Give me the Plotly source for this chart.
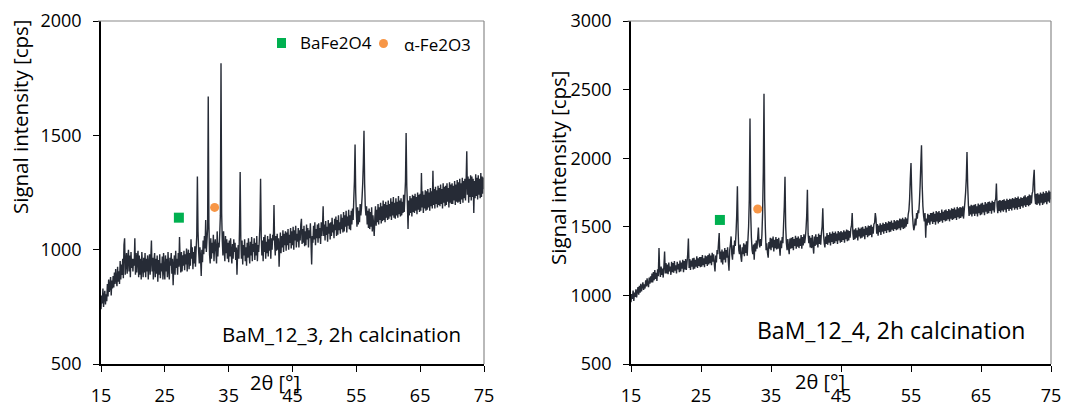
import plotly.graph_objects as go

# 2θ sampling grid (degrees)
TWO_THETA_START = 15.0
TWO_THETA_STEP = 0.1

# BaM_12_3 intensity [cps], one row per degree (x.0 ... x.9), last value at 75
bam_12_3 = [
    740, 800, 765, 830, 750, 795, 820, 760, 805, 775,
    850, 795, 870, 815, 840, 880, 800, 865, 830, 885,
    835, 900, 850, 915, 870, 840, 925, 860, 905, 850,
    950, 870, 935, 890, 960, 875, 1020, 1050, 890, 945,
    985, 895, 960, 1000, 905, 975, 880, 990, 920, 960,
    905, 960, 930, 1050, 890, 985, 900, 965, 995, 880,
    975, 890, 960, 870, 990, 925, 880, 965, 900, 985,
    880, 960, 905, 975, 870, 940, 980, 890, 960, 1040,
    905, 965, 870, 950, 985, 880, 960, 895, 975, 860,
    955, 890, 980, 875, 940, 905, 970, 870, 985, 910,
    870, 975, 905, 960, 880, 990, 915, 870, 965, 930,
    985, 895, 960, 845, 930, 975, 890, 995, 920, 960,
    890, 985, 925, 1055, 950, 900, 990, 905, 975, 930,
    995, 910, 980, 935, 1005, 905, 970, 1000, 915, 985,
    930, 1045, 960, 1010, 915, 990, 940, 1015, 925, 1000,
    1060, 1320, 1080, 990, 940, 1010, 960, 885, 1000, 945,
    1040, 980, 1060, 1005, 1130, 990, 1040, 1090, 1670, 1120,
    980, 940, 1050, 960, 1030, 985, 1065, 950, 1020, 1045,
    990, 940, 1080, 970, 1030, 1010, 1070, 1150, 1815, 1160,
    1040, 975, 1080, 1000, 950, 1060, 985, 1045, 960, 1030,
    945, 1040, 970, 1050, 985, 940, 1025, 960, 1045, 990,
    1030, 955, 1010, 890, 985, 1020, 960, 1090, 1340, 1050,
    960, 1040, 935, 1020, 975, 1045, 950, 1010, 930, 1030,
    965, 1050, 985, 940, 1035, 975, 1055, 950, 1025, 990,
    1050, 955, 1030, 975, 1060, 950, 1020, 990, 1040, 1110,
    1310, 1060, 975, 1040, 950, 1055, 990, 1065, 960, 1035,
    985, 1060, 970, 1045, 995, 1070, 960, 1050, 1000, 1065,
    1040, 1195, 1030, 975, 1060, 995, 1070, 1000, 1050, 925,
    1010, 1075, 985, 1060, 1010, 1085, 990, 1070, 1020, 1080,
    995, 1075, 1020, 1090, 1000, 1065, 1030, 1095, 1005, 1080,
    1020, 1100, 1000, 1085, 1040, 1105, 1010, 1070, 1035, 1095,
    1010, 1085, 1040, 1110, 1135, 1025, 1090, 1030, 1105, 1015,
    1080, 1020, 1110, 1045, 1095, 1010, 1085, 1050, 1115, 1030,
    935, 1060, 1030, 1105, 1045, 1120, 1020, 1090, 1050, 1110,
    1030, 1115, 1050, 1095, 1025, 1120, 1060, 1100, 1190, 1060,
    1110, 1040, 1125, 1065, 1100, 1035, 1130, 1070, 1115, 1045,
    1120, 1060, 1140, 1075, 1110, 1050, 1135, 1085, 1145, 1060,
    1130, 1065, 1150, 1085, 1120, 1070, 1155, 1090, 1140, 1075,
    1165, 1080, 1150, 1100, 1170, 1075, 1145, 1105, 1175, 1090,
    1150, 1085, 1170, 1110, 1180, 1130, 1220, 1300, 1460, 1250,
    1160, 1100, 1185, 1110, 1170, 1120, 1200, 1150, 1180, 1230,
    1290, 1380, 1520, 1290, 1190, 1150, 1190, 1110, 1170, 1095,
    1180, 1090, 1165, 1100, 1185, 1080, 1150, 1110, 1060, 1140,
    1190, 1105, 1175, 1120, 1200, 1110, 1185, 1130, 1205, 1115,
    1190, 1125, 1215, 1130, 1200, 1120, 1210, 1140, 1195, 1130,
    1215, 1135, 1200, 1145, 1225, 1130, 1210, 1150, 1230, 1140,
    1205, 1135, 1225, 1150, 1210, 1140, 1235, 1155, 1215, 1145,
    1225, 1150, 1210, 1160, 1240, 1165, 1230, 1300, 1510, 1280,
    1200, 1090, 1215, 1150, 1235, 1160, 1225, 1145, 1240, 1165,
    1235, 1160, 1245, 1170, 1230, 1155, 1250, 1175, 1240, 1165,
    1245, 1170, 1335, 1185, 1255, 1160, 1240, 1180, 1260, 1170,
    1255, 1175, 1265, 1185, 1250, 1170, 1270, 1190, 1255, 1180,
    1345, 1195, 1265, 1180, 1275, 1200, 1260, 1185, 1280, 1195,
    1270, 1190, 1285, 1200, 1265, 1180, 1290, 1205, 1275, 1190,
    1280, 1195, 1290, 1210, 1270, 1185, 1295, 1205, 1285, 1200,
    1290, 1200, 1280, 1215, 1300, 1195, 1285, 1210, 1305, 1205,
    1295, 1210, 1310, 1200, 1290, 1220, 1315, 1205, 1300, 1225,
    1310, 1215, 1300, 1430, 1240, 1320, 1205, 1310, 1230, 1325,
    1215, 1320, 1230, 1310, 1160, 1300, 1225, 1330, 1235, 1315,
    1220, 1325, 1240, 1310, 1225, 1335, 1230, 1320, 1245, 1315,
    1265,
]

# BaM_12_4 intensity [cps]
bam_12_4 = [
    950, 1010, 975, 1035, 960, 1020, 990, 1045, 985, 1030,
    1060, 1005, 1070, 1020, 1085, 1030, 1065, 1095, 1040, 1080,
    1050, 1110, 1065, 1125, 1080, 1060, 1130, 1085, 1140, 1095,
    1160, 1095, 1170, 1110, 1185, 1120, 1165, 1105, 1190, 1140,
    1345, 1180, 1135, 1210, 1150, 1195, 1130, 1215, 1320, 1160,
    1235, 1160, 1225, 1155, 1240, 1175, 1210, 1150, 1245, 1170,
    1235, 1165, 1250, 1180, 1220, 1160, 1245, 1190, 1230, 1170,
    1255, 1175, 1240, 1195, 1260, 1170, 1250, 1190, 1265, 1185,
    1240, 1300, 1415, 1200, 1265, 1185, 1255, 1210, 1270, 1190,
    1275, 1195, 1260, 1210, 1285, 1200, 1270, 1215, 1280, 1205,
    1280, 1210, 1295, 1220, 1270, 1205, 1290, 1230, 1285, 1215,
    1295, 1225, 1305, 1235, 1290, 1220, 1310, 1245, 1300, 1230,
    1175, 1290, 1240, 1330, 1300, 1380, 1455, 1265, 1320, 1240,
    1335, 1225, 1320, 1260, 1345, 1240, 1330, 1275, 1350, 1250,
    1180, 1330, 1375, 1430, 1300, 1260, 1365, 1300, 1400, 1360,
    1450, 1580, 1795, 1480, 1330, 1300, 1370, 1280, 1245, 1350,
    1300, 1380, 1285, 1370, 1310, 1395, 1290, 1400, 1500, 1700,
    2290, 1600, 1420, 1330, 1300, 1370, 1260, 1380, 1320, 1400,
    1340, 1420, 1495, 1380, 1350, 1410, 1360, 1440, 1600, 1900,
    2470, 1700, 1480, 1330, 1380, 1310, 1275, 1390, 1340, 1420,
    1330, 1415, 1350, 1430, 1320, 1405, 1345, 1425, 1335, 1410,
    1340, 1420, 1360, 1290, 1400, 1345, 1425, 1380, 1520, 1650,
    1865, 1500, 1380, 1330, 1410, 1350, 1300, 1415, 1340, 1420,
    1345, 1425, 1330, 1410, 1360, 1435, 1340, 1420, 1355, 1430,
    1345, 1415, 1360, 1440, 1340, 1425, 1365, 1445, 1380, 1420,
    1480, 1580, 1770, 1450, 1380, 1435, 1350, 1420, 1345, 1440,
    1365, 1305, 1430, 1360, 1445, 1370, 1425, 1350, 1450, 1375,
    1440, 1370, 1455, 1500, 1635, 1450, 1380, 1350, 1430, 1375,
    1455, 1370, 1440, 1385, 1460, 1365, 1450, 1390, 1465, 1375,
    1455, 1380, 1465, 1395, 1450, 1375, 1470, 1400, 1460, 1385,
    1470, 1390, 1460, 1405, 1475, 1385, 1465, 1410, 1480, 1395,
    1475, 1400, 1470, 1420, 1485, 1510, 1600, 1450, 1405, 1480,
    1410, 1490, 1420, 1475, 1400, 1495, 1430, 1485, 1415, 1495,
    1420, 1500, 1430, 1485, 1410, 1505, 1440, 1495, 1425, 1510,
    1435, 1505, 1440, 1515, 1425, 1500, 1450, 1520, 1530, 1600,
    1560, 1450, 1520, 1435, 1510, 1460, 1525, 1440, 1515, 1465,
    1530, 1450, 1520, 1470, 1535, 1455, 1525, 1475, 1540, 1460,
    1535, 1465, 1545, 1480, 1530, 1470, 1550, 1485, 1540, 1475,
    1550, 1480, 1545, 1490, 1560, 1475, 1555, 1495, 1565, 1485,
    1555, 1490, 1570, 1500, 1560, 1520, 1590, 1620, 1700, 1850,
    1965, 1750, 1600, 1520, 1475, 1500, 1560, 1510, 1600, 1560,
    1620, 1600, 1680, 1800, 1950, 2095, 1800, 1650, 1580, 1540,
    1600, 1420, 1560, 1510, 1595, 1530, 1585, 1515, 1600, 1540,
    1600, 1520, 1610, 1535, 1595, 1515, 1615, 1540, 1605, 1525,
    1615, 1535, 1600, 1545, 1625, 1530, 1610, 1550, 1620, 1540,
    1625, 1545, 1615, 1555, 1630, 1540, 1620, 1560, 1635, 1550,
    1630, 1555, 1640, 1565, 1625, 1550, 1645, 1570, 1635, 1560,
    1645, 1565, 1640, 1575, 1650, 1560, 1620, 1680, 1750, 1850,
    2045, 1800, 1660, 1580, 1650, 1590, 1660, 1575, 1655, 1595,
    1660, 1580, 1665, 1595, 1650, 1575, 1670, 1600, 1660, 1585,
    1670, 1590, 1675, 1605, 1660, 1585, 1680, 1610, 1670, 1595,
    1680, 1600, 1685, 1615, 1675, 1595, 1690, 1620, 1680, 1605,
    1690, 1700, 1815, 1650, 1600, 1690, 1615, 1695, 1605, 1690,
    1620, 1695, 1610, 1700, 1625, 1690, 1605, 1705, 1630, 1695,
    1615, 1705, 1630, 1700, 1620, 1710, 1640, 1705, 1625, 1715,
    1635, 1710, 1625, 1720, 1645, 1705, 1630, 1715, 1650, 1710,
    1640, 1720, 1655, 1730, 1645, 1715, 1660, 1725, 1650, 1735,
    1660, 1730, 1670, 1740, 1760, 1850, 1915, 1720, 1665, 1740,
    1660, 1745, 1670, 1735, 1655, 1750, 1675, 1740, 1660, 1755,
    1670, 1745, 1680, 1760, 1665, 1750, 1685, 1765, 1675, 1755,
    1700,
]

# phase markers [2θ, cps]
bafe2o4_marks = {"left": (27.2, 1140), "right": (27.7, 1550)}
fe2o3_marks = {"left": (32.8, 1185), "right": (33.1, 1630)}

x_ticks = [15, 25, 35, 45, 55, 65, 75]
left_y_ticks = [500, 1000, 1500, 2000]
right_y_ticks = [500, 1000, 1500, 2000, 2500, 3000]

LINE = "#262b36"
GREEN = "#00b050"
ORANGE = "#f79646"
FONT = "Open Sans"

def grid(n):
    return [round(TWO_THETA_START + TWO_THETA_STEP * i, 1) for i in range(n)]

assert len(bam_12_3) == 601, len(bam_12_3)
assert len(bam_12_4) == 601, len(bam_12_4)

fig = go.Figure()
fig.add_trace(go.Scatter(x=grid(len(bam_12_3)), y=bam_12_3, mode="lines",
                         line=dict(color=LINE, width=1.4, simplify=False),
                         xaxis="x", yaxis="y", showlegend=False))
fig.add_trace(go.Scatter(x=grid(len(bam_12_4)), y=bam_12_4, mode="lines",
                         line=dict(color=LINE, width=1.4, simplify=False),
                         xaxis="x2", yaxis="y2", showlegend=False))

for key, xa, ya in [("left", "x", "y"), ("right", "x2", "y2")]:
    fig.add_trace(go.Scatter(x=[bafe2o4_marks[key][0]], y=[bafe2o4_marks[key][1]], mode="markers",
                             marker=dict(symbol="square", size=10, color=GREEN),
                             xaxis=xa, yaxis=ya, showlegend=False))
    fig.add_trace(go.Scatter(x=[fe2o3_marks[key][0]], y=[fe2o3_marks[key][1]], mode="markers",
                             marker=dict(symbol="circle", size=9, color=ORANGE),
                             xaxis=xa, yaxis=ya, showlegend=False))

ydom = [0.1078, 0.9485]
axis_common = dict(showgrid=False, zeroline=False, showline=True, linecolor="black", linewidth=1.5,
                   ticks="outside", ticklen=6, tickwidth=1.3, tickcolor="black", automargin=False,
                   tickfont=dict(family=FONT, size=18, color="black"))

fig.update_layout(
    width=1078, height=408, margin=dict(l=0, r=0, t=0, b=0, autoexpand=False),
    paper_bgcolor="white", plot_bgcolor="white",
    font=dict(family=FONT, color="black"),
    xaxis=dict(domain=[101/1078, 484/1078], range=[15, 75], tickvals=x_ticks,
               ticklabelstandoff=9, anchor="y", **axis_common),
    yaxis=dict(domain=ydom, range=[500, 2000], tickvals=left_y_ticks,
               ticklabelstandoff=8, anchor="x", **axis_common),
    xaxis2=dict(domain=[631/1078, 1051/1078], range=[15, 75], tickvals=x_ticks,
                ticklabelstandoff=9, anchor="y2", **axis_common),
    yaxis2=dict(domain=ydom, range=[500, 3000], tickvals=right_y_ticks,
                ticklabelstandoff=8, anchor="x2", **axis_common),
)

# top/right frame lines in grey
for xr, yr in [("x", "y"), ("x2", "y2")]:
    dom = f"{xr} domain"
    ydm = f"{yr} domain"
    fig.add_shape(type="line", xref=dom, yref=ydm, x0=-0.008, x1=1, y0=1, y1=1,
                  line=dict(color="#8a8a8a", width=1.2))
    fig.add_shape(type="line", xref=dom, yref=ydm, x0=1, x1=1, y0=0, y1=1,
                  line=dict(color="#8a8a8a", width=1.2))

ann = []
# axis titles
ann.append(dict(text="2θ [°]", x=275, y=382, size=20))
ann.append(dict(text="2θ [°]", x=820, y=381, size=20))
ann.append(dict(text="Signal intensity [cps]", x=20, y=117, textangle=-90, size=20.5))
ann.append(dict(text="Signal intensity [cps]", x=558, y=168, textangle=-90, size=20.5))
# sample labels
ann.append(dict(text="BaM_12_3, 2h calcination", x=341, y=334, size=20.5))
ann.append(dict(text="BaM_12_4, 2h calcination", x=891, y=330, size=23))
# legend texts
ann.append(dict(text="BaFe2O4", x=336, y=43, size=17))
ann.append(dict(text="α-Fe2O3", x=437, y=44, size=17))

for a in ann:
    fig.add_annotation(text=a["text"], xref="paper", yref="paper",
                       x=a["x"]/1078, y=1 - a["y"]/408, xanchor="center", yanchor="middle",
                       showarrow=False, textangle=a.get("textangle", 0),
                       font=dict(family=FONT, size=a.get("size", 18), color="black"))

# legend symbols
fig.add_shape(type="rect", xref="paper", yref="paper",
              x0=277/1078, x1=286/1078, y0=1-48/408, y1=1-38/408,
              fillcolor=GREEN, line=dict(width=0))
fig.add_shape(type="circle", xref="paper", yref="paper",
              x0=379/1078, x1=388/1078, y0=1-48/408, y1=1-39/408,
              fillcolor=ORANGE, line=dict(width=0))

fig.write_html("out.html")
